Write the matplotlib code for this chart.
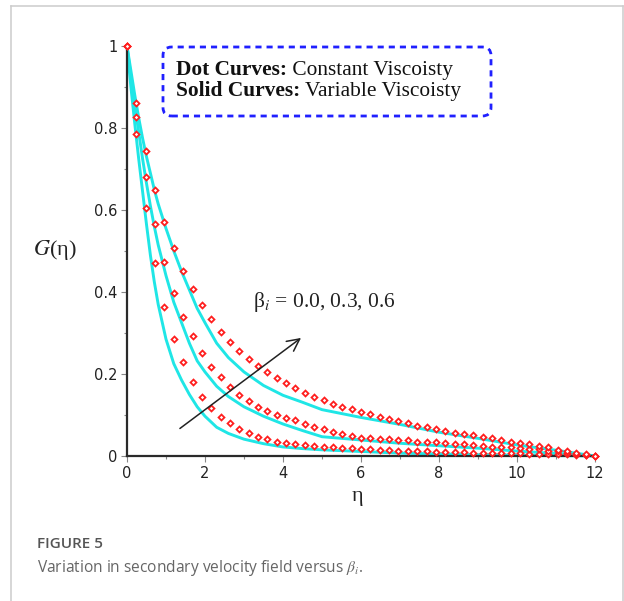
import matplotlib
matplotlib.use('Agg')
import matplotlib.pyplot as plt
from matplotlib.lines import Line2D
from matplotlib.patches import FancyBboxPatch
import numpy as np

plt.rcParams['mathtext.fontset'] = 'stix'

# marker grid of the dotted (constant viscosity) curves
eta_dots = np.round(np.arange(51) * 0.24, 2)

g_const_06 = [1.0, 0.86, 0.744, 0.649, 0.571, 0.507, 0.452, 0.407, 0.368, 0.333,
              0.303, 0.277, 0.257, 0.236, 0.220, 0.205, 0.190, 0.177, 0.165, 0.153,
              0.145, 0.137, 0.127, 0.120, 0.114, 0.108, 0.102, 0.094, 0.090, 0.085,
              0.080, 0.074, 0.070, 0.066, 0.062, 0.057, 0.054, 0.051, 0.046, 0.043,
              0.039, 0.034, 0.031, 0.028, 0.025, 0.021, 0.015, 0.011, 0.008, 0.005, 0.0]
g_const_03 = [1.0, 0.826, 0.68, 0.565, 0.474, 0.398, 0.34, 0.293, 0.25, 0.218,
              0.192, 0.168, 0.149, 0.133, 0.12, 0.11, 0.101, 0.093, 0.087, 0.078,
              0.070, 0.065, 0.059, 0.053, 0.048, 0.045, 0.043, 0.042, 0.041, 0.040,
              0.038, 0.035, 0.034, 0.033, 0.032, 0.030, 0.028, 0.026, 0.024, 0.023,
              0.022, 0.021, 0.020, 0.018, 0.016, 0.013, 0.011, 0.008, 0.006, 0.003, 0.0]
g_const_00 = [1.0, 0.785, 0.606, 0.47, 0.364, 0.285, 0.228, 0.18, 0.145, 0.118,
              0.096, 0.080, 0.067, 0.056, 0.047, 0.041, 0.035, 0.031, 0.028, 0.026,
              0.024, 0.023, 0.021, 0.020, 0.019, 0.017, 0.016, 0.015, 0.014, 0.013,
              0.012, 0.011, 0.011, 0.010, 0.010, 0.009, 0.009, 0.008, 0.008, 0.008,
              0.007, 0.007, 0.007, 0.006, 0.006, 0.005, 0.005, 0.004, 0.003, 0.002, 0.0]

# solid (variable viscosity) curves
eta_solid = [0, 0.1, 0.2, 0.3, 0.4, 0.5, 0.6, 0.7, 0.8, 1.0, 1.2, 1.4, 1.6, 1.8, 2.0,
             2.3, 2.6, 3.0, 3.5, 4.0, 4.5, 5.0, 6.0, 7.0, 8.0, 9.0, 10.0, 11.0, 12.0]
g_var_06 = [1.0, 0.94, 0.88, 0.825, 0.775, 0.73, 0.69, 0.65, 0.615, 0.555, 0.5, 0.45,
            0.405, 0.36, 0.325, 0.275, 0.24, 0.205, 0.172, 0.148, 0.131, 0.113, 0.094,
            0.077, 0.058, 0.043, 0.027, 0.014, 0.0]
g_var_03 = [1.0, 0.925, 0.855, 0.79, 0.725, 0.665, 0.61, 0.56, 0.515, 0.44, 0.375, 0.325,
            0.275, 0.232, 0.205, 0.17, 0.145, 0.12, 0.097, 0.078, 0.062, 0.047, 0.039,
            0.031, 0.025, 0.019, 0.012, 0.006, 0.0]
g_var_00 = [1.0, 0.9, 0.81, 0.725, 0.645, 0.565, 0.49, 0.425, 0.37, 0.285, 0.225, 0.185,
            0.15, 0.12, 0.097, 0.07, 0.055, 0.041, 0.03, 0.022, 0.018, 0.015, 0.011,
            0.007, 0.005, 0.003, 0.002, 0.001, 0.0]

x_ticks = [0, 2, 4, 6, 8, 10, 12]
y_ticks = [0, 0.2, 0.4, 0.6, 0.8, 1.0]
y_tick_labels = ['0', '0.2', '0.4', '0.6', '0.8', '1']

CYAN = '#1fe6e6'
RED = '#ff1f1f'
SERIF = 'Liberation Serif'

fig = plt.figure(figsize=(6.24, 6.01), dpi=100)
ax = fig.add_axes([0.2035, 0.2413, 0.75, 0.6822])

for g in (g_var_00, g_var_03, g_var_06):
    ax.plot(eta_solid, g, color=CYAN, lw=2.1, zorder=2, clip_on=False)
for g in (g_const_00, g_const_03, g_const_06):
    ax.plot(eta_dots, g, ls='none', marker='D', ms=3.0, mew=1.3, mec=RED,
            mfc='white', zorder=3, clip_on=False)

ax.set_xlim(0, 12)
ax.set_ylim(0, 1)
ax.set_xticks(x_ticks)
ax.set_xticks(np.arange(1, 12, 2), minor=True)
ax.set_yticks(y_ticks)
ax.set_yticklabels(y_tick_labels)
ax.set_yticks(np.arange(0.1, 1.0, 0.2), minor=True)
for side in ('top', 'right'):
    ax.spines[side].set_visible(False)
for side in ('left', 'bottom'):
    ax.spines[side].set_color('#2a2a2a')
    ax.spines[side].set_linewidth(1.6)
ax.tick_params(which='major', length=4, width=0.8, color='#888888', labelsize=10.5,
               labelcolor='#222222', pad=3)
ax.tick_params(which='minor', length=2.5, width=0.8, color='#888888')

# arrow and parameter label
ax.annotate('', xy=(4.52, 0.292), xytext=(1.3, 0.063),
            arrowprops=dict(arrowstyle='->', lw=1.1, color='#222222', mutation_scale=22))
ax.text(3.23, 0.364, r'β$_{i}$ = 0.0, 0.3, 0.6', family=SERIF, fontsize=15.5,
        color='#222222', va='baseline', ha='left')

# axis labels
fig.text(55 / 624, 1 - 250 / 601, r'$G$(η)', family=SERIF, fontsize=16,
         ha='center', va='center', color='#222222')
fig.text(358 / 624, 1 - 497 / 601, 'η', family=SERIF, fontsize=16,
         ha='center', va='center', color='#222222')

# dotted rounded box with the curve key
box = FancyBboxPatch((163 / 624, 1 - 116 / 601), 328 / 624, 69 / 601,
                     boxstyle='round,pad=0,rounding_size=0.014',
                     transform=fig.transFigure, fill=False, edgecolor='#2020ff',
                     lw=2.0, ls=(0, (2.2, 1.8)))
fig.add_artist(box)
key_lines = [('Dot Curves:', ' Constant Viscoisty', 1 - 70 / 601),
             ('Solid Curves:', ' Variable Viscoisty', 1 - 91 / 601)]
for bold_part, plain_part, y in key_lines:
    t = fig.text(176 / 624, y, bold_part, family=SERIF, fontweight='bold',
                 fontsize=15.4, va='center', ha='left', color='#111111')
    ax.annotate(plain_part, xy=(1, 0), xycoords=t, va='bottom', ha='left',
                family=SERIF, fontsize=15.4, color='#111111', annotation_clip=False)

# caption
fig.text(37 / 624, 1 - 548 / 601, 'FIGURE 5', family='Open Sans', fontweight='semibold',
         fontsize=11, color='#555555', va='baseline', ha='left')
fig.text(37 / 624, 1 - 571.5 / 601, r'Variation in secondary velocity field versus $\beta_i$.',
         family='Open Sans', fontsize=11.2, color='#666666', va='baseline', ha='left')

# page frame
frame_color = '#cccccc'
fig.add_artist(Line2D([11 / 624, 11 / 624], [0, 1 - 5.5 / 601], color=frame_color,
                      lw=1.1, transform=fig.transFigure))
fig.add_artist(Line2D([622.5 / 624, 622.5 / 624], [0, 1 - 5.5 / 601], color=frame_color,
                      lw=1.1, transform=fig.transFigure))
fig.add_artist(Line2D([11 / 624, 622.5 / 624], [1 - 5.5 / 601, 1 - 5.5 / 601],
                      color=frame_color, lw=1.1, transform=fig.transFigure))

fig.savefig('out.png', dpi=100, facecolor='white')
